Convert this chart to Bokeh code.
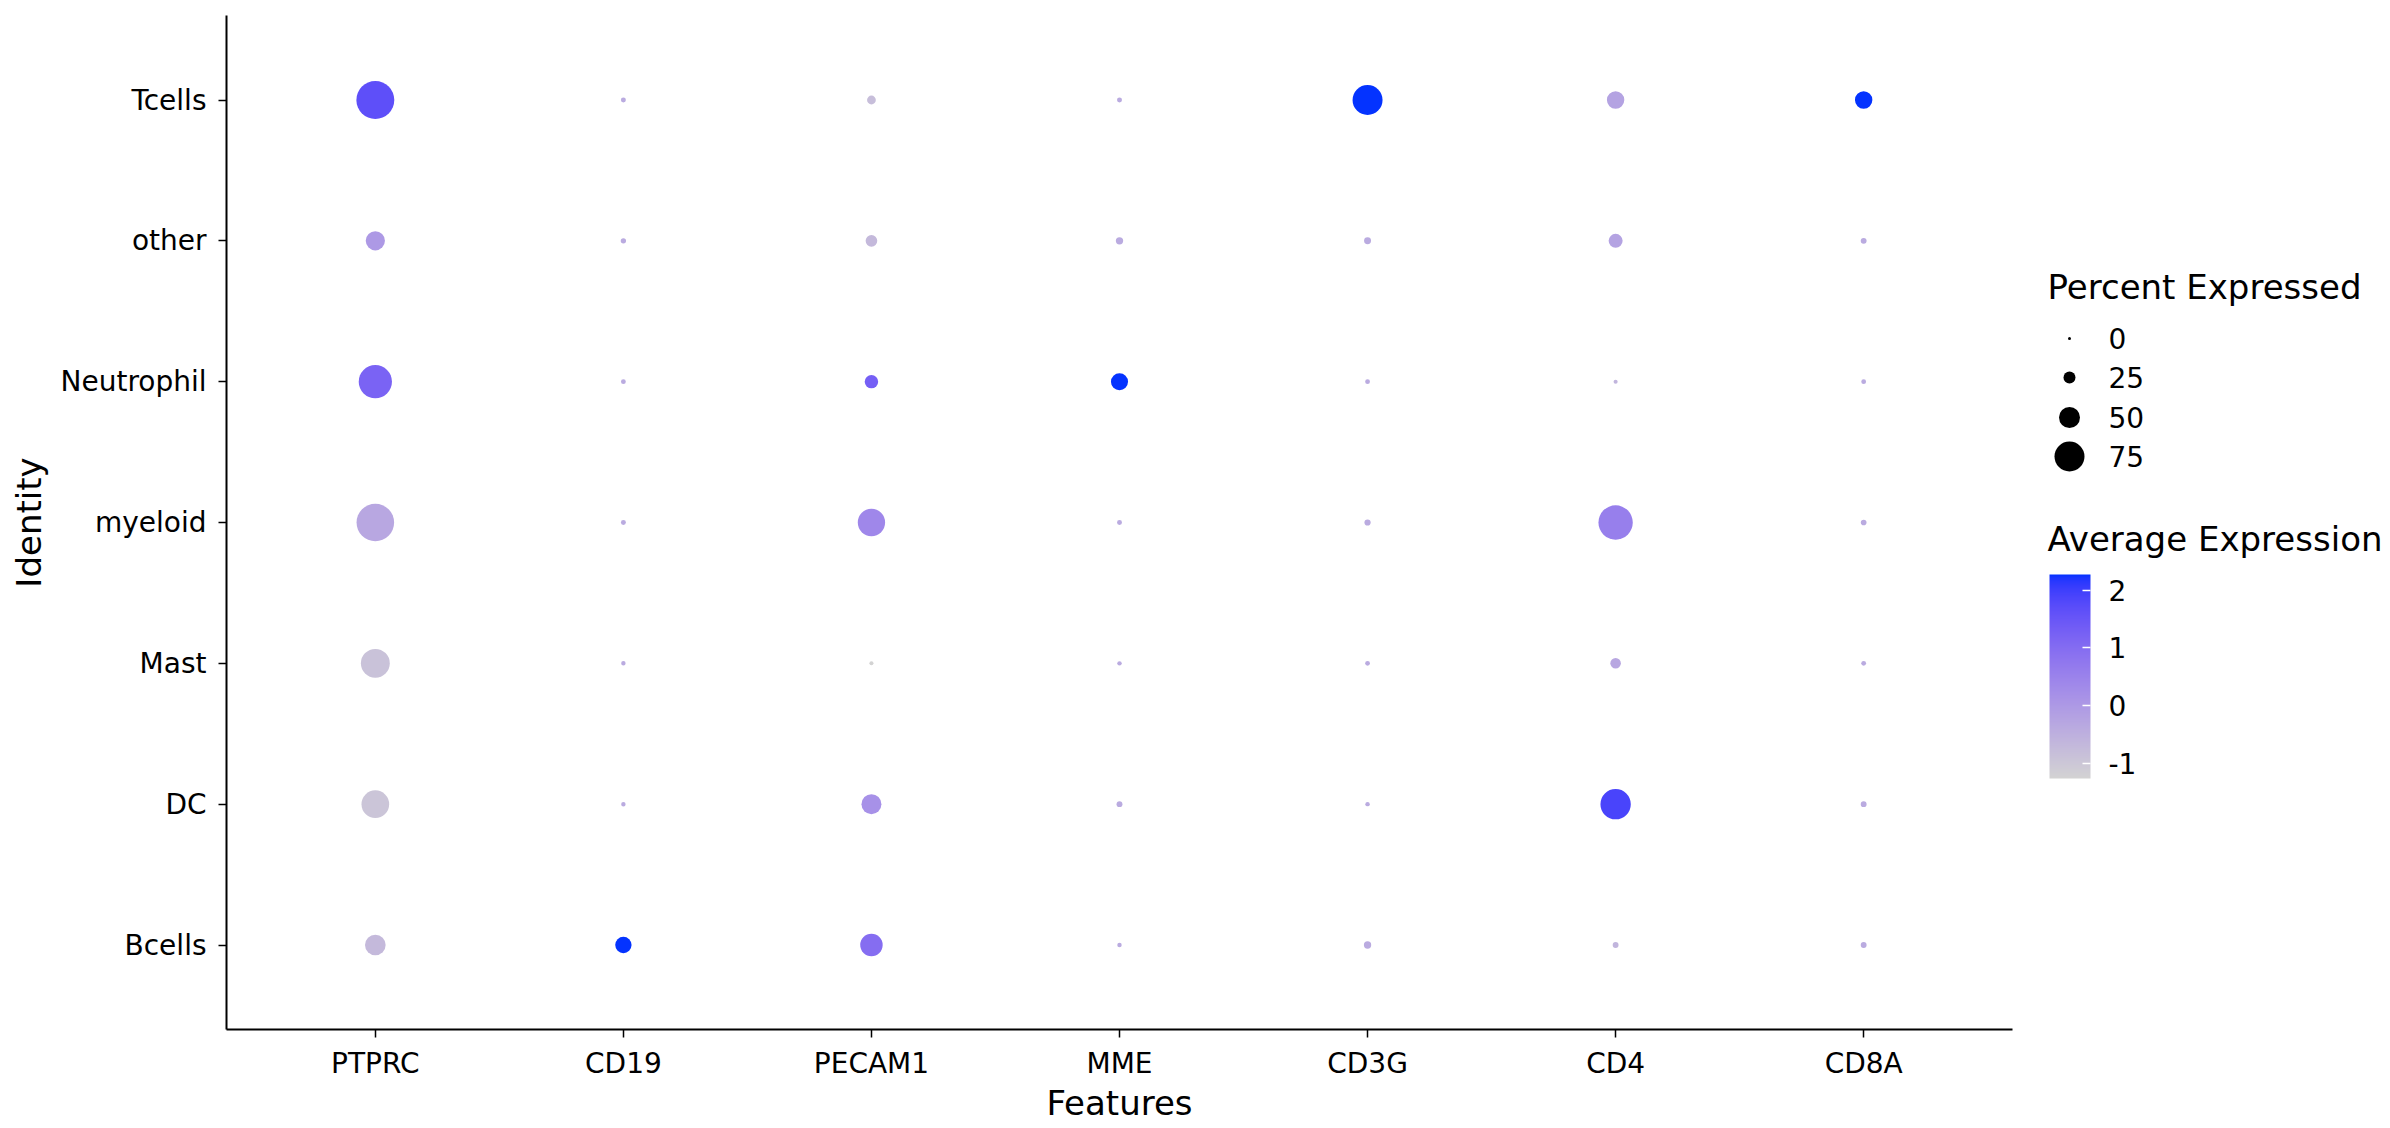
from bokeh.plotting import figure
from bokeh.models import Range1d, FixedTicker, LinearColorMapper, ColorBar, ColumnDataSource
from bokeh.layouts import row
from bokeh.core.properties import value
from bokeh.embed import file_html
from bokeh.resources import INLINE

# ---------------- data ----------------
features = ["PTPRC", "CD19", "PECAM1", "MME", "CD3G", "CD4", "CD8A"]
identities = ["Bcells", "DC", "Mast", "myeloid", "Neutrophil", "other", "Tcells"]  # bottom -> top

# percent expressed, in feature order
pct_Tcells     = [97, 5.5, 16, 5.5, 75, 40, 40]
pct_other      = [45, 6.5, 24, 12, 11, 30.5, 8]
pct_Neutrophil = [84, 5, 29, 39, 5, 3, 5]
pct_myeloid    = [96, 5.5, 67.5, 5.5, 9, 87, 7.5]
pct_Mast       = [72, 4, 3, 4, 5, 21, 5]
pct_DC         = [68.5, 4, 47, 8, 4, 76, 8]
pct_Bcells     = [49, 37, 54, 4, 12, 8, 8]

# scaled average expression, in feature order
exp_Tcells     = [1.65, -0.38, -0.8, -0.38, 2.27, -0.2, 2.27]
exp_other      = [0.0, -0.38, -0.7, -0.38, -0.38, -0.2, -0.38]
exp_Neutrophil = [1.2, -0.38, 1.3, 2.27, -0.38, -0.6, -0.38]
exp_myeloid    = [-0.3, -0.38, 0.4, -0.38, -0.38, 0.6, -0.38]
exp_Mast       = [-0.9, -0.38, -1.26, -0.38, -0.38, -0.3, -0.38]
exp_DC         = [-0.95, -0.38, 0.2, -0.38, -0.38, 1.9, -0.38]
exp_Bcells     = [-0.7, 2.27, 1.0, -0.38, -0.38, -0.6, -0.38]

pct_breaks = [0, 25, 50, 75]
exp_ticks = [-1, 0, 1, 2]
exp_low, exp_high = -1.26, 2.27

pct_rows = {"Tcells": pct_Tcells, "other": pct_other, "Neutrophil": pct_Neutrophil,
            "myeloid": pct_myeloid, "Mast": pct_Mast, "DC": pct_DC, "Bcells": pct_Bcells}
exp_rows = {"Tcells": exp_Tcells, "other": exp_other, "Neutrophil": exp_Neutrophil,
            "myeloid": exp_myeloid, "Mast": exp_Mast, "DC": exp_DC, "Bcells": exp_Bcells}

# ---------------- colour palette (Lab interpolation lightgrey -> blue) ----------------
def _lin(c):
    c = c / 255.0
    return c / 12.92 if c <= 0.04045 else ((c + 0.055) / 1.055) ** 2.4

def _unlin(c):
    c = 12.92 * c if c <= 0.0031308 else 1.055 * c ** (1 / 2.4) - 0.055
    return max(0, min(255, round(c * 255)))

def hex_to_lab(h):
    r, g, b = (_lin(int(h[i:i + 2], 16)) for i in (1, 3, 5))
    X = (0.4124564 * r + 0.3575761 * g + 0.1804375 * b) / 0.95047
    Y = (0.2126729 * r + 0.7151522 * g + 0.0721750 * b)
    Z = (0.0193339 * r + 0.1191920 * g + 0.9503041 * b) / 1.08883
    d = 6 / 29
    f = lambda t: t ** (1 / 3) if t > d ** 3 else t / (3 * d * d) + 4 / 29
    fx, fy, fz = f(X), f(Y), f(Z)
    return 116 * fy - 16, 500 * (fx - fy), 200 * (fy - fz)

def lab_to_hex(L, a, b):
    d = 6 / 29
    fy = (L + 16) / 116
    fx = fy + a / 500
    fz = fy - b / 200
    finv = lambda t: t ** 3 if t > d else 3 * d * d * (t - 4 / 29)
    X, Y, Z = 0.95047 * finv(fx), finv(fy), 1.08883 * finv(fz)
    r = 3.2404542 * X - 1.5371385 * Y - 0.4985314 * Z
    g = -0.9692660 * X + 1.8760108 * Y + 0.0415560 * Z
    bb = 0.0556434 * X - 0.2040259 * Y + 1.0572252 * Z
    r, g, bb = (max(0.0, min(1.0, v)) for v in (r, g, bb))
    return "#%02x%02x%02x" % (_unlin(r), _unlin(g), _unlin(bb))

lo, hi = hex_to_lab("#d3d3d3"), hex_to_lab("#0433ff")
palette = [lab_to_hex(*(lo[k] + (hi[k] - lo[k]) * i / 255 for k in range(3))) for i in range(256)]
mapper = LinearColorMapper(palette=palette, low=exp_low, high=exp_high)

def dot_size(p):
    return 3 + 0.36 * p

# ---------------- main plot ----------------
xs, ys, sizes, exps = [], [], [], []
for yi, ident in enumerate(identities):
    for xi, feat in enumerate(features):
        xs.append(xi)
        ys.append(yi)
        sizes.append(dot_size(pct_rows[ident][xi]))
        exps.append(exp_rows[ident][xi])
src = ColumnDataSource(dict(x=xs, y=ys, size=sizes, exp=exps))

FONT = "DejaVu Sans"
H = 1128
TOP, BOTTOM = 15, 99
p = figure(width=2020, height=H, x_range=Range1d(-0.6, len(features) - 0.4),
           y_range=Range1d(-0.6, len(identities) - 0.4),
           output_backend="svg", toolbar_location=None,
           min_border_left=226, min_border_right=8, min_border_top=TOP, min_border_bottom=BOTTOM)
p.scatter("x", "y", size="size", source=src, fill_color={"field": "exp", "transform": mapper},
          line_color=None)

p.grid.visible = False
p.outline_line_color = None
p.xaxis.ticker = FixedTicker(ticks=list(range(len(features))))
p.xaxis.major_label_overrides = {i: f for i, f in enumerate(features)}
p.yaxis.ticker = FixedTicker(ticks=list(range(len(identities))))
p.yaxis.major_label_overrides = {i: s for i, s in enumerate(identities)}
p.xaxis.axis_label = "Features"
p.yaxis.axis_label = "Identity"
for ax in (p.xaxis, p.yaxis):
    ax.axis_line_color = "black"
    ax.axis_line_width = 2
    ax.major_tick_line_color = "black"
    ax.major_tick_line_width = 1.5
    ax.major_tick_in = 0
    ax.major_tick_out = 8
    ax.minor_tick_line_color = None
    ax.major_label_text_font = FONT
    ax.major_label_text_font_size = "28px"
    ax.major_label_text_color = "black"
    ax.axis_label_text_font = FONT
    ax.axis_label_text_font_size = "34px"
    ax.axis_label_text_font_style = "normal"
    ax.axis_label_text_color = "black"
p.xaxis.major_label_standoff = 9
p.xaxis.axis_label_standoff = 0
p.yaxis.major_label_standoff = 12
p.yaxis.axis_label_standoff = 8

# ---------------- legend panel (coordinates = page pixels) ----------------
LX0, LW = 2020, 368
L = figure(width=LW, height=H, x_range=Range1d(LX0, LX0 + LW), y_range=Range1d(H - BOTTOM, TOP),
           x_axis_location=None, y_axis_location=None,
           min_border_left=0, min_border_right=0, min_border_top=TOP, min_border_bottom=BOTTOM,
           output_backend="svg", toolbar_location=None)
L.grid.visible = False
L.outline_line_color = None

L.text(x=[2047, 2047], y=[286, 538], text=["Percent Expressed", "Average Expression"],
       text_font=value(FONT), text_font_size="34px", text_baseline="middle", text_align="left",
       text_color="black")
leg_y = [338, 377, 417, 456]
L.scatter(x=[2069] * len(pct_breaks), y=leg_y, size=[dot_size(b) for b in pct_breaks],
          fill_color="black", line_color=None)
L.text(x=[2108] * len(pct_breaks), y=leg_y, text=[str(b) for b in pct_breaks],
       text_font=value(FONT), text_font_size="28px", text_baseline="middle", text_align="left",
       text_color="black")

cb = ColorBar(color_mapper=mapper, ticker=FixedTicker(ticks=exp_ticks),
              major_label_overrides={t: str(t) for t in exp_ticks},
              width=41, height=204, location=(2049 - LX0, (H - BOTTOM) - 778), padding=0,
              major_label_text_font=FONT, major_label_text_font_size="28px",
              major_label_text_color="black", label_standoff=18,
              major_tick_line_color="white", major_tick_line_width=1.5,
              major_tick_in=8, major_tick_out=0, minor_tick_line_color=None,
              bar_line_color=None, border_line_color=None, background_fill_color=None)
L.add_layout(cb, "center")

layout = row(p, L)
open("out.html", "w").write(file_html(layout, INLINE))
